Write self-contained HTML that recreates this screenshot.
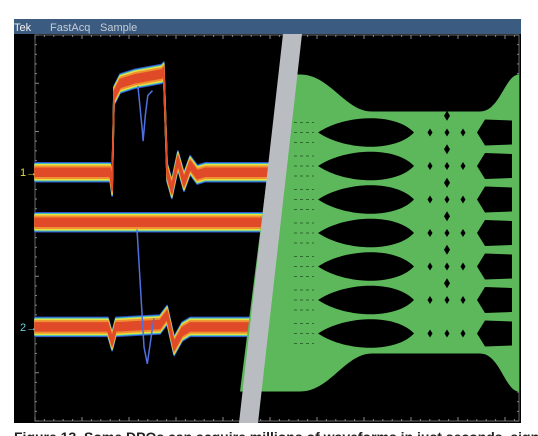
<!DOCTYPE html>
<html><head><meta charset="utf-8"><style>
html,body{margin:0;padding:0;background:#fff;width:538px;height:436px;overflow:hidden}
svg{display:block}
</style></head><body>
<svg id="scope" width="538" height="436" viewBox="0 0 538 436" xmlns="http://www.w3.org/2000/svg" font-family="Liberation Sans, sans-serif">
<rect x="0" y="0" width="538" height="436" fill="#fff"/>
<rect x="14" y="19" width="507" height="15" fill="#3b5b80"/>
<text x="14" y="31" font-size="11" fill="#f0f0f0">Tek</text>
<text x="50" y="31" font-size="11" fill="#c4ccd6">FastAcq</text>
<text x="100" y="31" font-size="11" fill="#c4ccd6">Sample</text>
<rect x="14" y="34" width="507" height="389" fill="#000"/>
<defs>
<clipPath id="leftClip"><polygon points="14,34 284,34 240,423 14,423"/></clipPath>
</defs>
<g id="grat"></g>
<g id="traces" clip-path="url(#leftClip)"></g>
<g id="eye"></g>
<polygon points="283,34 302,34 258,423 239,423" fill="#b9bdc1"/>
<text x="20" y="176" font-size="11" fill="#e0e040">1→</text>
<text x="20" y="331" font-size="11" fill="#70d0d8">2→</text>
<text x="14" y="442" font-size="14" font-weight="bold" fill="#222">Figure 13. Some DPOs can acquire millions of waveforms in just seconds, significantly</text>
</svg>
<script>
// ---- data ----
const ch1Time=[0,1.6,1.64,1.68,1.81,2.13,2.7,2.74,2.81,2.91,3.04,3.17,3.3,3.45,3.62,5.0];
const ch1Val=[0,0,-0.3,1.6,1.85,1.95,2.05,2.1,0,-0.35,0.25,-0.2,0.15,-0.05,0,0];
const ch3Time=[0,5.0];
const ch3Val=[0,0];
const ch2Time=[0,1.55,1.64,1.72,2.66,2.81,2.96,3.13,3.3,5.0];
const ch2Val=[0,0,-0.3,0,0.05,0.25,-0.4,-0.1,0,0];
const glitch1Time=[2.19,2.28,2.3,2.35,2.4,2.5];
const glitch1Val=[1.8,0.9,0.65,1.2,1.6,1.7];
const glitch2Time=[2.17,2.32,2.39,2.47,2.53];
const glitch2Val=[-0.15,-2.6,-2.95,-2.4,-2.0];
const ch1Offset=1.15, ch3Offset=0.11, ch2Offset=-2.07;
const eyeLevels=[3,2,1,0,-1,-2,-3];
// ---- scales ----
const X0=35,DX=47,YC=227.5,DY=48;
const sx=t=>X0+t*DX, sy=v=>YC-v*DY;
const NS='http://www.w3.org/2000/svg';
function mk(tag,attrs,parent){const e=document.createElementNS(NS,tag);for(const k in attrs)e.setAttribute(k,attrs[k]);parent.appendChild(e);return e;}
function pathD(ts,vs,off){return ts.map((t,i)=>(i?'L':'M')+sx(t).toFixed(1)+','+sy(vs[i]+off).toFixed(1)).join(' ');}
function bandD(ts,vs,off,h){
 const up=ts.map((t,i)=>sx(t).toFixed(1)+','+(sy(vs[i]+off)-h).toFixed(1));
 const dn=ts.map((t,i)=>sx(t).toFixed(1)+','+(sy(vs[i]+off)+h).toFixed(1)).reverse();
 return 'M'+up.join(' L')+' L'+dn.join(' L')+' Z';
}
// graticule
const g=document.getElementById('grat');
const border=mk('rect',{x:35,y:35,width:484,height:386,fill:'none',stroke:'#6a6a6a','stroke-width':1},g);


for(let i=0;i<=51;i++){const x=35+i*9.4;
 const t1=mk('line',{x1:x,y1:35,x2:x,y2:i%5?37:39,stroke:'#888'},g);
 
 const t2=mk('line',{x1:x,y1:421,x2:x,y2:i%5?419:417,stroke:'#888'},g);
 }
for(let i=0;i<=40;i++){const y=35+i*9.65;
 const t1=mk('line',{x1:35,y1:y,x2:i%5?37:39,y2:y,stroke:'#888'},g);
 
 const t2=mk('line',{x1:519,y1:y,x2:i%5?517:515,y2:y,stroke:'#888'},g);
 }
// traces persistence bands
const tr=document.getElementById('traces');
const layers=[['#3050d0',9.5],['#40c0c0',8.5],['#e8e040',7.5],['#f09030',6],['#e04a28',4]];
function band(ts,vs,off,name){
 const grp=mk('g',{},tr);
 
 
 layers.forEach(([c,h])=>{
  const p=mk('path',{d:bandD(ts,vs,off,h),fill:c,stroke:c,'stroke-width':1.5,'stroke-linejoin':'round'},grp);
  });
}
band(ch1Time,ch1Val,ch1Offset,'channel-1-trace');
band(ch3Time,ch3Val,ch3Offset,'channel-3-trace');
band(ch2Time,ch2Val,ch2Offset,'channel-2-trace');
const gl1=mk('path',{d:pathD(glitch1Time,glitch1Val,ch1Offset),fill:'none',stroke:'#5070e0','stroke-width':1.5},tr);

const gl2=mk('path',{d:pathD(glitch2Time,glitch2Val,ch3Offset),fill:'none',stroke:'#5070e0','stroke-width':1.5},tr);

// eye diagram
const eg=document.getElementById('eye');
const EYC=233,EDY=33.5;
const ey=l=>EYC-l*EDY;
const topL=ey(eyeLevels[0])-58, topF=ey(eyeLevels[0])-21, botL=ey(eyeLevels[6])+58, botF=ey(eyeLevels[6])+20;
const env=mk('path',{d:`M280,${topL} L300,${topL} C330,${topL} 345,${topF} 372,${topF} L480,${topF} C500,${topF} 505,${topL} 519,${topL} L519,${botL} C505,${botL} 500,${botF} 480,${botF} L372,${botF} C345,${botF} 330,${botL} 300,${botL} L240,${botL} Z`,fill:'#5cb85a'},eg);

eyeLevels.forEach((l,i)=>{
 const cy=ey(l);
 const e1=mk('path',{d:`M318,${cy} C345,${cy-18} 395,${cy-20} 414,${cy} C395,${cy+20} 345,${cy+18} 318,${cy} Z`,fill:'#000'},eg);
 
 const e2=mk('path',{d:`M477,${cy} L485,${cy-13} L512,${cy-12} L512,${cy+12} L485,${cy+13} Z`,fill:'#000'},eg);
 
 [430,447,463].forEach(x=>{
  const d=mk('path',{d:`M${x},${cy-4} L${x+2.5},${cy} L${x},${cy+4} L${x-2.5},${cy} Z`,fill:'#000'},eg);
  });
 if(i<6){const m=cy-EDY/2;
  const d=mk('path',{d:`M447,${m-5} L450,${m} L447,${m+5} L444,${m} Z`,fill:'#000'},eg);
  }
 for(let k=0;k<3;k++){const yy=cy-10+k*10;
  const s=mk('line',{x1:294,y1:yy,x2:314,y2:yy,stroke:'#2e6a2e','stroke-width':1,'stroke-dasharray':'3 3'},eg);
  }
});
</script>
</body></html>
